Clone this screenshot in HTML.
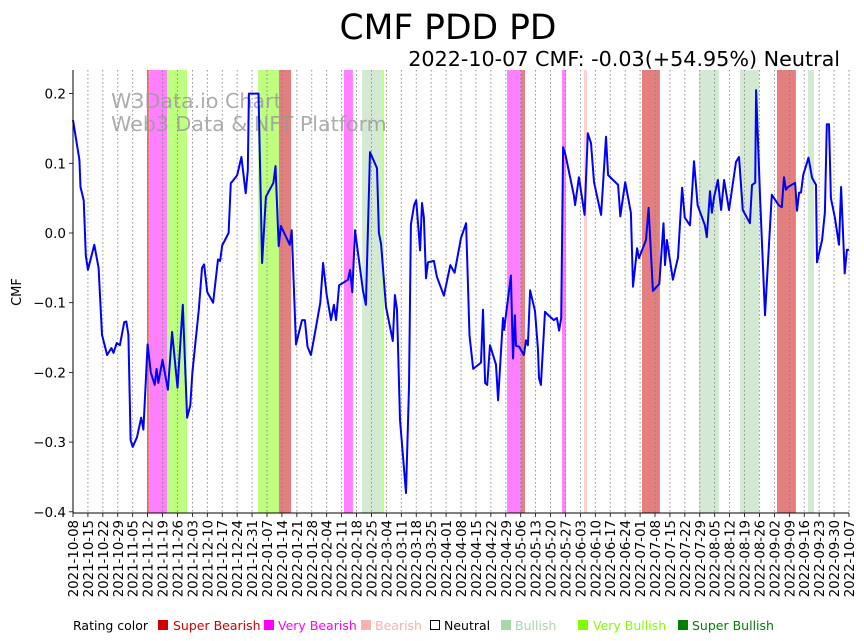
<!DOCTYPE html>
<html><head><meta charset="utf-8"><style>
body{margin:0;background:#fff;}
svg{display:block;font-family:"DejaVu Sans","Liberation Sans",sans-serif;}
</style></head><body>
<svg id="chart" width="864" height="641" viewBox="0 0 864 641" xmlns="http://www.w3.org/2000/svg">
<rect width="864" height="641" fill="#fff"/>
<text x="448" y="39" font-size="34.5" text-anchor="middle" fill="#000">CMF PDD PD</text>
<text x="840" y="66" font-size="20.7" text-anchor="end" fill="#000">2022-10-07 CMF: -0.03(+54.95%) Neutral</text>
<g id="spans"></g>
<g id="grid"></g>
<text x="111" y="108" font-size="20.6" fill="#999" fill-opacity="0.8">W3Data.io Chart</text>
<text x="111" y="131" font-size="20.6" fill="#999" fill-opacity="0.8">Web3 Data &amp; NFT Platform</text>
<g id="series"></g>
<g id="axes"></g>
<text transform="translate(21,292) rotate(-90)" font-size="13" text-anchor="middle">CMF</text>
<g id="legend" font-size="12.5">
<text x="73" y="630">Rating color</text>
<rect x="158" y="620" width="10" height="10" fill="#d00000"/>
<text x="173" y="630" fill="#d00000">Super Bearish</text>
<rect x="264" y="620" width="10" height="10" fill="#ff00ff"/>
<text x="278" y="630" fill="#ff00ff">Very Bearish</text>
<rect x="361" y="620" width="10" height="10" fill="#ffb0b0"/>
<text x="375" y="630" fill="#ffb0b0">Bearish</text>
<rect x="430.5" y="620.5" width="9" height="9" fill="#fff" stroke="#000"/>
<text x="444" y="630" fill="#000">Neutral</text>
<rect x="501" y="620" width="10" height="10" fill="#a8d8a8"/>
<text x="515" y="630" fill="#a8d8a8">Bullish</text>
<rect x="578" y="620" width="10" height="10" fill="#80ff00"/>
<text x="593" y="630" fill="#80ff00">Very Bullish</text>
<rect x="678" y="620" width="10" height="10" fill="#008000"/>
<text x="692" y="630" fill="#008000">Super Bullish</text>
</g>
</svg>
<script>
const startDate = "2021-10-08";
const totalDays = 364;
const yTicks = [0.2, 0.1, 0.0, -0.1, -0.2, -0.3, -0.4];
const yTickLabels = ["0.2", "0.1", "0.0", "\u22120.1", "\u22120.2", "\u22120.3", "\u22120.4"];
const days = [0,3,3.5,5,6,7,10,12,13.6,16,18,19,20.5,22,24,25,26,27,28,30,32,33,35,36.5,38.3,39.2,40,42,44.5,46.5,49,51.5,53.5,55,56,59,60.5,61.5,63,65.7,68,69,70,73,74,74.5,77,79,81,82,82.5,87,88.7,90.5,94,95,96.5,97.5,101.7,102.6,104.6,107.4,108.8,110,111.6,113,116,117.3,119,121,122.4,123.4,124.8,129,130,131,132.3,136,137.4,139.3,142.6,143.5,144.5,146.8,150,151,152,153.4,156.2,157.6,158.5,160,161,162.8,163.7,164.6,165.6,166.5,169.3,170.7,174,177,179,182,184.4,186,187.7,191.4,192.3,193.3,194.3,195.6,198.4,199.4,201.7,202.2,205.4,206.4,207.3,207.8,209.2,211.5,212.5,213.4,214.4,216.7,218.1,218.6,219.5,221.4,223,225.6,227,228,229,229.9,231,235,235.5,237.3,240,241.5,243,244.4,247.7,250,251,255.7,256.7,259,261.7,262.7,264.6,265.5,268.8,270,272,275,277,277.7,278.6,281.4,283.8,285.7,287,289.4,291.3,293,296.4,297.3,298.8,299.7,300.7,302.5,304,305.4,307.7,311,312.4,314.2,317.5,318.5,320,320.4,322.3,324.6,327.8,331,332.5,333.5,334.4,335.4,338.7,339.6,340.6,341.5,342.5,345,346.7,348.5,349,351.4,352.7,353.6,354.6,355.5,357.4,359.3,360.3,362,363,364];
const values = [0.162,0.105,0.066,0.047,-0.032,-0.053,-0.017,-0.05,-0.146,-0.175,-0.165,-0.172,-0.158,-0.161,-0.128,-0.127,-0.146,-0.297,-0.307,-0.293,-0.265,-0.282,-0.16,-0.2,-0.218,-0.195,-0.215,-0.182,-0.225,-0.142,-0.222,-0.103,-0.265,-0.247,-0.2,-0.11,-0.05,-0.045,-0.085,-0.1,-0.038,-0.04,-0.018,0,0.072,0.073,0.083,0.109,0.057,0.09,0.2,0.2,-0.043,0.052,0.072,0.096,-0.019,0.01,-0.017,0.004,-0.16,-0.125,-0.125,-0.163,-0.175,-0.152,-0.1,-0.043,-0.089,-0.125,-0.103,-0.125,-0.075,-0.067,-0.053,-0.085,0.004,-0.082,-0.103,0.116,0.093,0,-0.016,-0.106,-0.155,-0.089,-0.11,-0.268,-0.373,-0.221,0.012,0.04,0.047,-0.025,0.043,0.022,-0.065,-0.042,-0.04,-0.063,-0.09,-0.046,-0.057,-0.007,0.014,-0.147,-0.195,-0.186,-0.11,-0.215,-0.218,-0.161,-0.189,-0.24,-0.122,-0.139,-0.061,-0.18,-0.118,-0.162,-0.163,-0.175,-0.154,-0.161,-0.082,-0.112,-0.168,-0.208,-0.218,-0.113,-0.118,-0.125,-0.122,-0.14,-0.122,0.123,0.112,0.053,0.04,0.08,0.026,0.143,0.129,0.073,0.026,0.138,0.083,0.069,0.024,0.073,0.029,-0.077,-0.022,-0.036,-0.01,0.036,-0.083,-0.073,0.014,-0.046,-0.01,-0.067,-0.035,0.065,0.022,0.011,0.103,0.04,0.011,-0.006,0.06,0.029,0.052,0.076,0.033,0.076,0.033,0.102,0.109,0.033,0.014,0.069,0.072,0.205,0.05,-0.118,0.055,0.04,0.037,0.08,0.062,0.066,0.072,0.032,0.058,0.058,0.083,0.108,0.079,0.069,-0.042,-0.01,0.03,0.156,0.156,0.05,0.022,-0.017,0.066,-0.058,-0.024,-0.024];
const spanStart = [34.7,35.7,44.1,86.8,96.6,127.1,135.6,144.9,203.6,210.1,229.4,239.7,266.9,293.6,312.9,330.2,344.7];
const spanEnd   = [35.7,44.1,53.5,96.6,102.3,131.3,144.9,145.9,210.1,212,231.2,241.1,275.3,303,321.8,339.1,347.6];
const spanRating = ["super-bearish","very-bearish","very-bullish","very-bullish","super-bearish","very-bearish","bullish","very-bullish","very-bearish","super-bearish","very-bearish","bearish","super-bearish","bullish","bullish","super-bearish","bullish"];
const ratingColor = {"super-bearish":"#e47f7f","very-bearish":"#ff80ff","bearish":"#ffd2d2","bullish":"#d4e9d4","very-bullish":"#bfff80"};

const NS = "http://www.w3.org/2000/svg";
const L = 73, R = 849, T = 70, B = 513;
const xS = d => L + d * (R - L) / totalDays;
const yS = v => 233 - v * 697;
function mk(tag, attrs, parent) {
  const e = document.createElementNS(NS, tag);
  for (const k in attrs) e.setAttribute(k, attrs[k]);
  parent.appendChild(e);
  return e;
}
const gSpans = document.getElementById('spans');
spanStart.forEach((s, i) => {
  const r = mk('rect', {x: xS(s), y: T, width: xS(spanEnd[i]) - xS(s), height: B - T, fill: ratingColor[spanRating[i]]}, gSpans);
  
  
});
const gGrid = document.getElementById('grid');
const gAxes = document.getElementById('axes');
const base = new Date(startDate + "T00:00:00Z");
for (let d = 0; d <= totalDays; d += 7) {
  const x = xS(d);
  const gl = mk('line', {x1: x, x2: x, y1: T, y2: B, stroke: '#777', 'stroke-width': 0.8, 'stroke-dasharray': '1.5,2.5'}, gGrid);
  
  
  mk('line', {x1: x, x2: x, y1: B, y2: B + 4, stroke: '#000', 'stroke-width': 0.8}, gAxes);
  const dt = new Date(base.getTime() + d * 86400000);
  const lab = dt.toISOString().slice(0, 10);
  const t = mk('text', {transform: `translate(${x + 5},${B + 7}) rotate(-90)`, 'font-size': 13.3, 'text-anchor': 'end'}, gAxes);
  
  
  t.textContent = lab;
}
yTicks.forEach((v, i) => {
  const y = yS(v);
  mk('line', {x1: L - 4, x2: L, y1: y, y2: y, stroke: '#000', 'stroke-width': 0.8}, gAxes);
  const t = mk('text', {x: L - 7, y: y + 5, 'font-size': 13.5, 'text-anchor': 'end'}, gAxes);
  
  
  t.textContent = yTickLabels[i];
});
const ya = mk('line', {x1: L, x2: L, y1: T, y2: B, stroke: '#000', 'stroke-width': 1}, gAxes);


const xa = mk('line', {x1: L, x2: R, y1: B, y2: B, stroke: '#000', 'stroke-width': 1}, gAxes);


const pts = days.map((d, i) => xS(d).toFixed(1) + ',' + yS(values[i]).toFixed(1)).join(' ');
const line = mk('polyline', {points: pts, fill: 'none', stroke: '#0000ff', 'stroke-width': 2, 'stroke-linejoin': 'round'}, document.getElementById('series'));


</script>
</body></html>
